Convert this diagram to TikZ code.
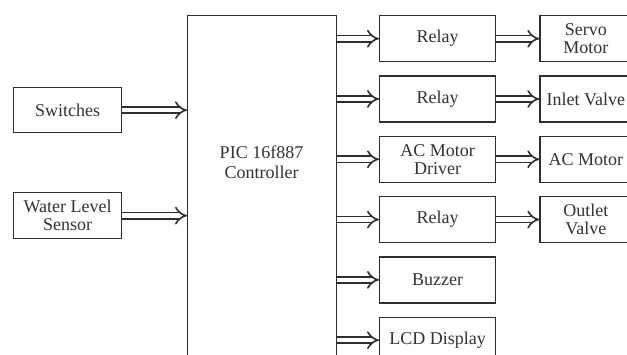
\documentclass[tikz,border=0pt]{standalone}
\usepackage{fontspec}
\setmainfont{Liberation Serif}
\usepackage{tikz}
\usetikzlibrary{arrows.meta,positioning}
\definecolor{LineGray}{HTML}{2E2E2E}
\definecolor{TextGray}{HTML}{333333}
\tikzset{
  blk/.style={rectangle,draw=LineGray,line width=1.3pt,fill=white,
              text=TextGray,align=center,inner sep=1pt,
              font=\fontsize{18}{18}\selectfont},
  inbox/.style={blk,minimum width=108pt,minimum height=45pt},
  relaybox/.style={blk,minimum width=116pt,minimum height=46pt},
  outbox/.style={blk,minimum width=92pt,minimum height=46pt},
  arr/.style={draw=LineGray,double=white,double distance=4.5pt,
              line width=1.6pt,-{Implies[scale=1.25]}}
}
\begin{document}
\begin{tikzpicture}[x=1pt,y=-1pt,node distance=13pt and 43pt]
  \clip (0,0) rectangle (627,354);
  \fill[white] (0,0) rectangle (627,354);

  % Controller
  \node[blk,minimum width=149pt,minimum height=360pt,anchor=north west] (ctrl) at (187,15) {};
  \node[text=TextGray,align=center,font=\fontsize{18}{20}\selectfont] (ctrltxt) at (261.5,162) {PIC 16f887\\Controller};

  % Inputs
  \node[inbox,anchor=north west] (sw) at (13,87) {Switches};
  \node[inbox,minimum height=46pt,anchor=north west] (wls) at (13,192) {Water Level\\Sensor};

  % Drivers
  \node[relaybox,anchor=north west] (relA) at (379,15) {Relay};
  \node[relaybox,below=of relA] (relB) {Relay};
  \node[relaybox,below=of relB] (acdrv) {AC Motor\\Driver};
  \node[relaybox,below=of acdrv] (relC) {Relay};
  \node[relaybox,below=of relC] (buzz) {Buzzer};
  \node[relaybox,below=of buzz] (lcd) {LCD Display};

  % Actuators
  \node[outbox,right=of relA] (servo) {Servo\\Motor};
  \node[outbox,right=of relB] (inlet) {Inlet Valve};
  \node[outbox,right=of acdrv] (acmot) {AC Motor};
  \node[outbox,right=of relC] (outlet) {Outlet\\Valve};

  \draw[arr] (sw.east) -- (sw.east -| ctrl.west);
  \draw[arr] (wls.east) -- (wls.east -| ctrl.west);
  \foreach \dst in {relA,relB,acdrv,relC,buzz,lcd}
    \draw[arr] (\dst.west -| ctrl.east) -- (\dst.west);
  \draw[arr] (relA.east) -- (servo.west);
  \draw[arr] (relB.east) -- (inlet.west);
  \draw[arr] (acdrv.east) -- (acmot.west);
  \draw[arr] (relC.east) -- (outlet.west);
\end{tikzpicture}
\end{document}
